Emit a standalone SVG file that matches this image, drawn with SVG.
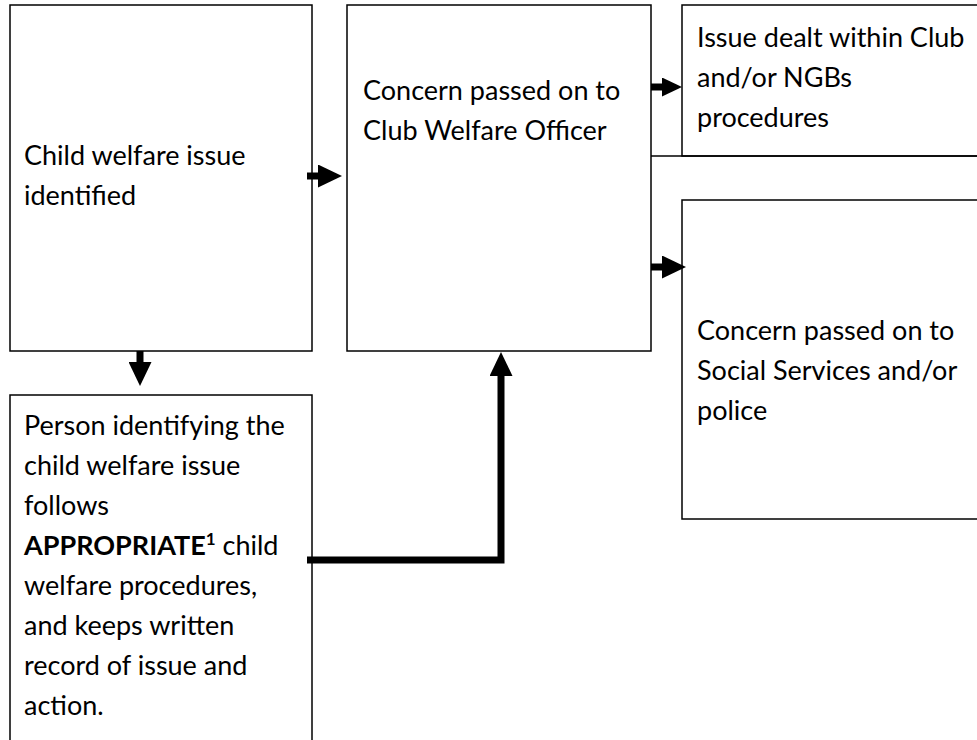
<svg xmlns="http://www.w3.org/2000/svg" width="977" height="740" viewBox="0 0 977 740">
<style>
.box{fill:none;stroke:#000;stroke-width:1.5}
.t{font-family:Lato,"Liberation Sans",sans-serif;font-size:27px;fill:#000}
.b{font-weight:bold}
.conn{fill:none;stroke:#000;stroke-width:7}
</style>
<defs>
<marker id="ah" markerUnits="userSpaceOnUse" markerWidth="24" markerHeight="23" refX="0" refY="11.5" orient="auto" viewBox="0 0 24 23">
<path d="M0,0 L24,11.5 L0,23 z" fill="#000"/>
</marker>
<marker id="ahs" markerUnits="userSpaceOnUse" markerWidth="20" markerHeight="19" refX="0" refY="9.5" orient="auto" viewBox="0 0 20 19">
<path d="M0,0 L20,9.5 L0,19 z" fill="#000"/>
</marker>
</defs>
<rect width="977" height="740" fill="#fff"/>
<g id="n-identified">
<rect class="box" x="10" y="5" width="302" height="346"/>
<text class="t" x="24" y="165">Child welfare issue</text>
<text class="t" x="24" y="205">identified</text>
</g>
<g id="n-person">
<rect class="box" x="10" y="395" width="302" height="360"/>
<text class="t" x="24" y="435">Person identifying the</text>
<text class="t" x="24" y="475">child welfare issue</text>
<text class="t" x="24" y="515">follows</text>
<text class="t" x="24" y="555"><tspan class="b">APPROPRIATE</tspan><tspan class="b" font-size="17" dy="-10">1</tspan><tspan dy="10"> child</tspan></text>
<text class="t" x="24" y="595">welfare procedures,</text>
<text class="t" x="24" y="635">and keeps written</text>
<text class="t" x="24" y="675">record of issue and</text>
<text class="t" x="24" y="715">action.</text>
</g>
<g id="n-cwo">
<rect class="box" x="347" y="5" width="304" height="346"/>
<text class="t" x="363" y="100">Concern passed on to</text>
<text class="t" x="363" y="140">Club Welfare Officer</text>
</g>
<g id="n-club">
<rect class="box" x="682" y="5" width="310" height="151"/>
<line class="box" x1="651" y1="156" x2="977" y2="156"/>
<text class="t" x="697" y="47">Issue dealt within Club</text>
<text class="t" x="697" y="87">and/or NGBs</text>
<text class="t" x="697" y="127">procedures</text>
</g>
<g id="n-social">
<rect class="box" x="682" y="200" width="310" height="319"/>
<text class="t" x="697" y="340">Concern passed on to</text>
<text class="t" x="697" y="380">Social Services and/or</text>
<text class="t" x="697" y="420">police</text>
</g>
<g id="connectors">
<line class="conn" x1="307" y1="176" x2="318" y2="176" marker-end="url(#ah)"/>
<line class="conn" x1="140" y1="351" x2="140" y2="362" marker-end="url(#ah)"/>
<path class="conn" d="M307,560 H501 V376" marker-end="url(#ah)"/>
<line class="conn" x1="651" y1="87" x2="662" y2="87" marker-end="url(#ahs)"/>
<line class="conn" x1="651" y1="267" x2="662" y2="267" marker-end="url(#ah)"/>
</g>
</svg>
